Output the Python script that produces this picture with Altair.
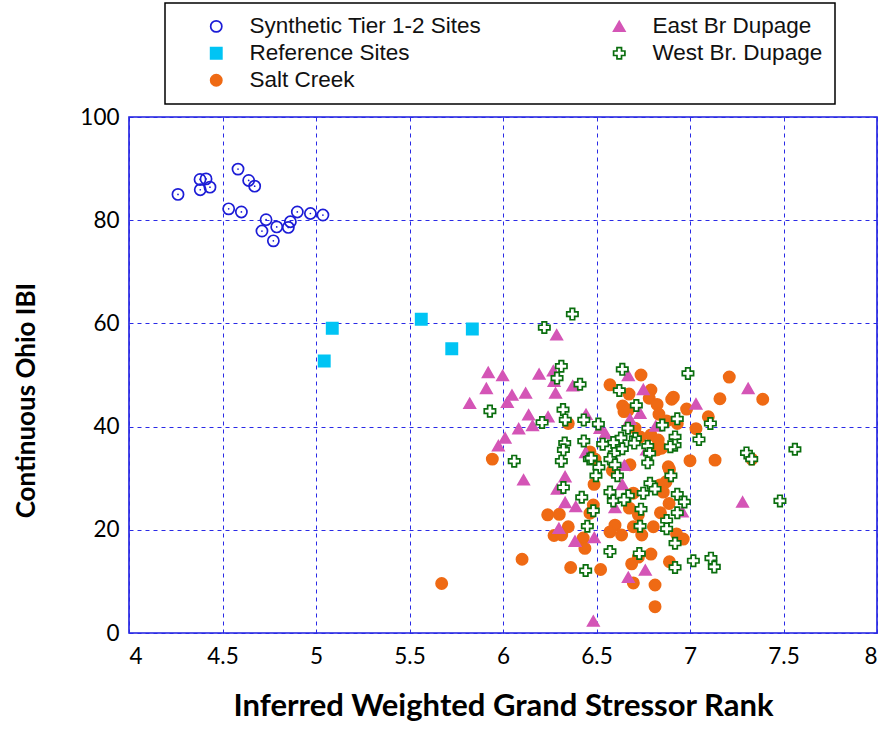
import altair as alt
import pandas as pd

# --- Synthetic Tier 1-2 sites ---
syn_x = [4.262, 4.380, 4.412, 4.381, 4.433, 4.583, 4.640, 4.672, 4.533, 4.601,
         4.733, 4.711, 4.790, 4.772, 4.852, 4.863, 4.900, 4.970, 5.037]
syn_y = [85.0, 87.9, 88.0, 85.9, 86.4, 89.9, 87.7, 86.6, 82.2, 81.6,
         80.1, 77.9, 78.7, 76.0, 78.6, 79.7, 81.6, 81.3, 81.0]

# --- Reference sites ---
ref_x = [5.087, 5.044, 5.563, 5.836, 5.726]
ref_y = [59.05, 52.7, 60.8, 58.9, 55.1]

# --- Salt Creek ---
salt_x = [6.349, 5.943, 6.465, 6.492,
          6.572, 6.738, 6.674, 6.791, 6.782, 6.824, 6.902, 6.911, 7.210, 7.160,
          6.982, 6.640, 6.647, 6.670, 6.834, 6.875, 6.932, 7.098, 7.032, 6.706,
          6.791, 6.830, 6.733, 6.822, 6.848, 7.000, 7.134, 6.884, 6.679,
          7.389, 7.330,
          6.239, 6.301, 6.349, 6.273, 6.314, 6.102, 6.362, 5.672,
          6.890, 6.585, 6.487, 6.872, 6.840, 6.697, 6.857, 6.888, 6.842, 6.676,
          6.724, 6.483, 6.465, 6.599, 6.572, 6.634, 6.697, 6.742, 6.804, 6.928,
          6.964, 6.429, 6.438, 6.522, 6.688, 6.724, 6.791, 6.890, 6.697, 6.813,
          6.813]
salt_y = [40.6, 33.7, 35.1, 33.7,
          48.1, 50.0, 46.3, 47.1, 45.5, 44.3, 45.3, 45.7, 49.6, 45.4,
          43.4, 44.0, 42.9, 43.2, 42.4, 41.1, 40.6, 41.9, 39.6, 39.7,
          38.4, 37.4, 38.0, 35.5, 35.8, 33.4, 33.5, 32.2, 32.6,
          45.3, 33.7,
          22.9, 23.0, 20.6, 18.9, 19.0, 14.3, 12.7, 9.6,
          31.7, 31.5, 28.8, 29.3, 28.7, 27.1, 27.3, 25.1, 23.3, 24.2,
          22.9, 24.8, 23.2, 20.9, 19.6, 19.0, 20.6, 19.0, 20.6, 19.2,
          18.2, 18.4, 16.4, 12.3, 13.4, 14.7, 15.3, 13.8, 9.7, 9.3,
          5.1]

# --- East Branch DuPage ---
east_x = [6.287, 5.921, 5.998, 6.193, 6.269, 6.273, 6.373, 5.911, 6.048, 6.121,
          6.281, 5.822, 6.023, 6.137, 6.241, 6.444, 6.158, 6.084, 6.011, 5.975,
          6.442,
          6.670, 6.750, 6.733, 6.679, 7.032, 6.817, 6.519, 6.547, 7.311, 6.649,
          6.768,
          6.110, 6.332, 6.290, 6.332, 6.389, 6.299, 6.385,
          6.638, 6.599, 6.959, 6.488, 6.761, 6.670, 6.483,
          7.281]
east_y = [57.8, 50.5, 49.9, 50.2, 50.8, 48.8, 47.9, 47.4, 46.1, 46.5,
          46.5, 44.5, 44.7, 42.3, 41.9, 42.4, 40.2, 39.6, 37.8, 36.3,
          35.0,
          49.9, 47.2, 42.6, 41.4, 44.4, 40.1, 39.7, 38.7, 47.4, 32.5,
          35.5,
          29.7, 30.3, 27.9, 25.3, 24.5, 20.3, 17.8,
          28.8, 24.3, 23.5, 18.5, 12.2, 10.8, 2.3,
          25.4]

# --- West Branch DuPage ---
west_x = [6.371, 6.221, 6.312, 6.289, 6.412, 5.930, 6.321, 6.333, 6.209, 6.432,
          6.510, 6.330, 6.323, 6.432, 6.462, 6.060, 6.312,
          6.638, 6.622, 6.713, 6.989, 6.932, 6.852, 7.109, 6.668, 6.920, 6.920,
          6.895, 7.048, 6.631, 6.590, 6.533, 6.638, 6.708, 6.702, 6.774, 6.784,
          6.774, 6.595, 6.572, 6.599, 7.302, 6.472,
          7.561, 7.330,
          6.323,
          6.513, 6.497, 6.612, 6.898, 6.786, 6.813, 6.572, 6.750, 6.670, 6.590,
          6.647, 6.932, 6.970, 6.421, 6.483, 6.738, 6.932, 6.875, 6.875, 6.451,
          6.733, 6.920, 6.572, 6.729, 7.018, 7.112, 7.130, 6.920, 6.442,
          7.481]
west_y = [61.8, 59.2, 51.7, 49.4, 48.2, 43.0, 43.3, 41.3, 40.8, 41.3,
          40.5, 36.8, 35.5, 37.2, 33.7, 33.3, 33.3,
          51.1, 47.0, 44.1, 50.3, 41.5, 40.3, 40.6, 39.7, 38.0, 36.4,
          36.1, 37.5, 37.8, 36.9, 36.6, 35.7, 37.7, 36.8, 36.2, 34.8,
          33.0, 34.8, 33.7, 32.6, 34.9, 33.9,
          35.6, 33.7,
          28.2,
          32.1, 30.5, 30.5, 30.5, 29.0, 27.9, 27.3, 27.1, 26.6, 25.6,
          25.8, 26.9, 25.4, 26.3, 23.7, 24.0, 23.3, 21.8, 20.2, 20.7,
          20.7, 17.4, 15.8, 15.4, 14.0, 14.5, 12.8, 12.7, 12.1,
          25.6]

SYN = "Synthetic Tier 1-2 Sites"
REF = "Reference Sites"
SALT = "Salt Creek"
EAST = "East Br Dupage"
WEST = "West Br. Dupage"

groups = [
    (SYN, syn_x, syn_y, 0),
    (REF, ref_x, ref_y, 1),
    (SALT, salt_x, salt_y, 2),
    (EAST, east_x, east_y, 3),
    (WEST, west_x, west_y, 4),
]
rows = []
for name, xs, ys, rank in groups:
    for xv, yv in zip(xs, ys):
        rows.append({"series": name, "rank": rank, "stressor": xv, "ibi": yv})
df = pd.DataFrame(rows)

# legend entries run down the first column, then the second
legend_order = [SYN, REF, SALT, EAST, WEST]
shape_of = {SYN: "circle", EAST: "triangle-up", REF: "square", WEST: "cross", SALT: "circle"}
stroke_of = {SYN: "#1c1cd6", EAST: "#d455b6", REF: "#00c4f4", WEST: "#0a6e0e", SALT: "#ef6a14"}
fill_of = {SYN: "transparent", EAST: "#d455b6", REF: "#00c4f4", WEST: "#ffffff", SALT: "#ef6a14"}
size_of = {SYN: 125, EAST: 92, REF: 128, WEST: 62, SALT: 86}

def scale(mapping):
    return alt.Scale(domain=legend_order, range=[mapping[k] for k in legend_order])

x_enc = alt.X("stressor:Q", scale=alt.Scale(domain=[4, 8], nice=False, zero=False),
              axis=alt.Axis(values=[4, 4.5, 5, 5.5, 6, 6.5, 7, 7.5, 8], format="~g",
                            title="Inferred Weighted Grand Stressor Rank"))
y_enc = alt.Y("ibi:Q", scale=alt.Scale(domain=[0, 100], nice=False),
              axis=alt.Axis(values=[0, 20, 40, 60, 80, 100], format="d",
                            title="Continuous Ohio IBI", titleY=283))

legend = alt.Legend(title=None, orient="none", legendX=36, legendY=-114, columns=2,
                    columnPadding=98, rowPadding=4, padding=12,
                    symbolOffset=28,
                    labelFont="Liberation Sans", labelFontSize=22.5, labelColor="#111111",
                    labelOffset=22, labelLimit=400)

points = alt.Chart(df).mark_point(opacity=1, strokeWidth=1.7).encode(
    x=x_enc,
    y=y_enc,
    shape=alt.Shape("series:N", scale=scale(shape_of), legend=legend),
    stroke=alt.Stroke("series:N", scale=scale(stroke_of), legend=legend),
    fill=alt.Fill("series:N", scale=scale(fill_of), legend=legend),
    size=alt.Size("series:N", scale=scale(size_of), legend=legend),
    order=alt.Order("rank:Q"),
)

# small centre dot inside each synthetic-site ring
dots = alt.Chart(df[df["series"] == SYN]).mark_point(
    filled=True, size=3, color="#1c1cd6", opacity=1
).encode(x=alt.X("stressor:Q"), y=alt.Y("ibi:Q"))

chart = alt.layer(points, dots).properties(
    width=748,
    height=516,
    autosize=alt.AutoSizeParams(type="none"),
    padding={"left": 129, "top": 117, "right": 9, "bottom": 96},
).configure_view(
    stroke="#1c1ce0", strokeWidth=1.6
).configure_legend(
    strokeColor="#000000", strokeWidth=1.5, symbolStrokeWidth=1.7
).configure_axis(
    grid=True, gridColor="#2a2ae6", gridDash=[4, 4], gridWidth=1, gridOpacity=1,
    domain=False, ticks=False,
    labelFont="Lato", labelFontSize=22.5, labelColor="#000000",
    titleFont="Lato", titleFontWeight="bold", titleColor="#000000",
).configure_axisX(
    labelPadding=12, titleFontSize=31, titlePadding=24,
).configure_axisY(
    labelPadding=10, titleFontSize=26, titlePadding=40,
)

chart.save("out.html", embed_options={"renderer": "svg", "actions": False})
